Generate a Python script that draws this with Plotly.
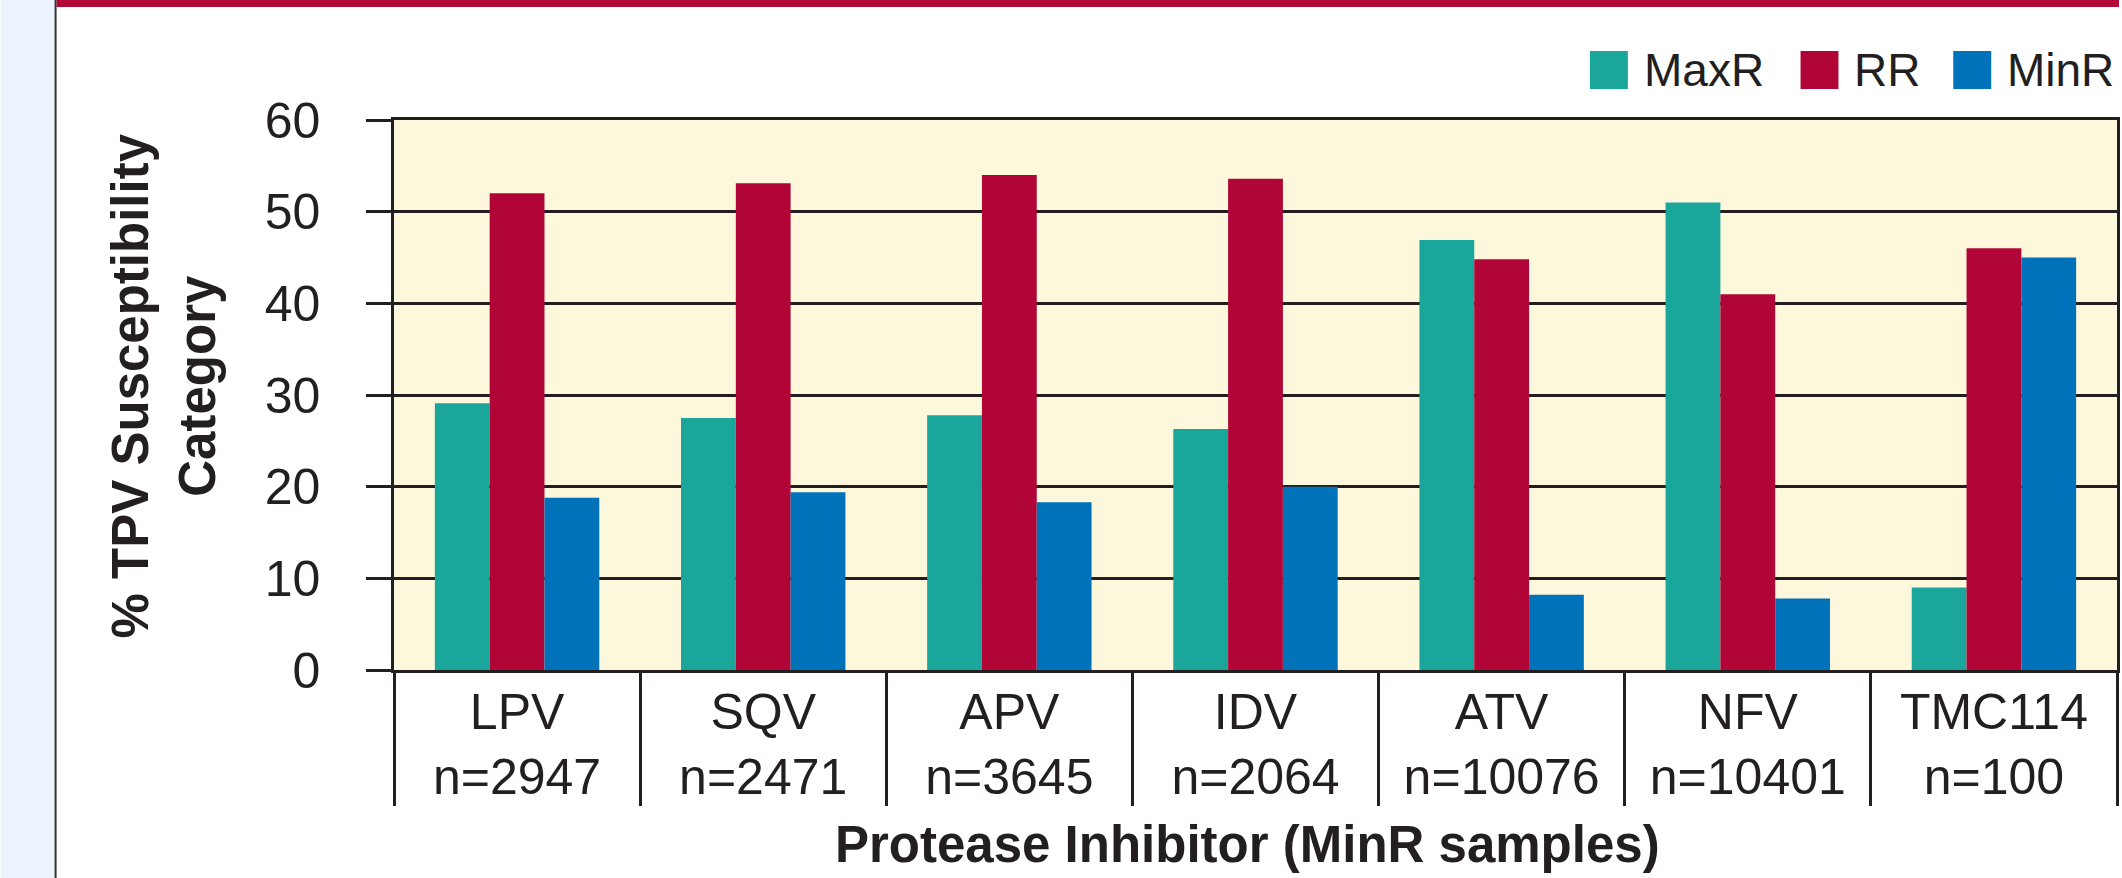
import plotly.graph_objects as go

# ---- data ----
inhibitors = ["LPV", "SQV", "APV", "IDV", "ATV", "NFV", "TMC114"]
n_samples = [2947, 2471, 3645, 2064, 10076, 10401, 100]
maxr = [29.1, 27.5, 27.8, 26.3, 46.9, 51.0, 9.0]
rr = [52.0, 53.1, 54.0, 53.6, 44.8, 41.0, 46.0]
minr = [18.8, 19.4, 18.3, 20.0, 8.2, 7.8, 45.0]
series_names = ["MaxR", "RR", "MinR"]
y_ticks = [0, 10, 20, 30, 40, 50, 60]

# ---- style ----
W, H = 2122, 878
L, R, T, B = 394, 2120, 120, 670
COLORS = ["#1AA69B", "#B20537", "#0072BA"]
INK = "#231F20"
CREAM = "#FDF8DC"
FONT = "Liberation Sans, Arial, sans-serif"


def px_x(px):
    return (px - L) / (R - L)


def px_y(py):
    return (B - py) / (B - T)


labels = [f"{c}<br>n={n}" for c, n in zip(inhibitors, n_samples)]

fig = go.Figure()
for name, vals, col in zip(series_names, [maxr, rr, minr], COLORS):
    fig.add_trace(go.Bar(x=labels, y=vals, name=name, marker=dict(color=col, line=dict(width=0)),
                         showlegend=False))

fig.update_layout(
    width=W, height=H,
    margin=dict(l=L, r=W - R, t=T, b=H - B, pad=0),
    paper_bgcolor="white",
    plot_bgcolor=CREAM,
    barmode="group",
    bargap=0.332,
    bargroupgap=0,
    font=dict(family=FONT, size=50, color=INK),
)

fig.update_yaxes(
    range=[0, 60], tickvals=y_ticks, showgrid=True, gridcolor=INK, gridwidth=2.5,
    ticks="outside", ticklen=25, tickwidth=2.5, tickcolor=INK,
    showline=True, linecolor=INK, linewidth=2.5, mirror=True,
    zeroline=False, ticklabelstandoff=36,
    tickfont=dict(family=FONT, size=50, color=INK),
)
fig.update_xaxes(
    type="category", range=[-0.5, 6.5], tickson="boundaries",
    ticks="outside", ticklen=133, tickwidth=2.5, tickcolor=INK,
    showline=True, linecolor=INK, linewidth=2.5, mirror=True,
    showgrid=False, ticklabelstandoff=-4,
    tickfont=dict(family=FONT, size=50, color=INK),
)

shapes = []
# left light-blue strip and its border
shapes.append(dict(type="rect", xref="paper", yref="paper", x0=px_x(0), x1=px_x(55),
                   y0=px_y(H), y1=px_y(0), fillcolor="#EBF4FC", line=dict(width=0), layer="below"))
shapes.append(dict(type="line", xref="paper", yref="paper", x0=px_x(55), x1=px_x(55),
                   y0=px_y(H), y1=px_y(0), line=dict(color="#333333", width=2)))
# top red band
shapes.append(dict(type="rect", xref="paper", yref="paper", x0=px_x(56), x1=px_x(W),
                   y0=px_y(7), y1=px_y(0), fillcolor="#B20537", line=dict(width=0)))

annotations = []
# custom legend (large square swatches)
legend_swatch_x = [1592, 1803, 1956]
for name, col, sx in zip(series_names, COLORS, legend_swatch_x):
    shapes.append(dict(type="rect", xref="paper", yref="paper", x0=px_x(sx), x1=px_x(sx + 38),
                       y0=px_y(89), y1=px_y(51), fillcolor=col, line=dict(width=0)))
    annotations.append(dict(xref="paper", yref="paper", x=px_x(sx + 52), y=px_y(70),
                            xanchor="left", yanchor="middle", showarrow=False, text=name,
                            font=dict(family=FONT, size=46, color=INK)))

# axis titles
annotations.append(dict(xref="paper", yref="paper", x=px_x(163), y=px_y(386),
                        xanchor="center", yanchor="middle", textangle=-90, showarrow=False,
                        text="<b>% TPV Susceptibility<br>Category</b>",
                        font=dict(family=FONT, size=51, color=INK)))
annotations.append(dict(xref="paper", yref="paper", x=px_x(1249), y=px_y(814),
                        xanchor="center", yanchor="top", showarrow=False,
                        text="<b>Protease Inhibitor (MinR samples)</b>",
                        font=dict(family=FONT, size=51, color=INK)))

fig.update_layout(shapes=shapes, annotations=annotations)

fig.write_html("out.html", config={"displayModeBar": False},
               post_script="document.body.style.margin='0';document.body.style.overflow='hidden';")
